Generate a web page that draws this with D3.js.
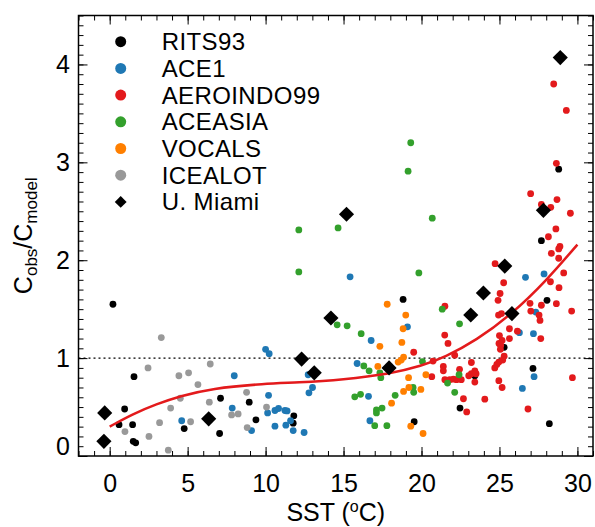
<!DOCTYPE html>
<html>
<head>
<meta charset="utf-8">
<script src="https://cdn.jsdelivr.net/npm/d3@7"></script>
<style>
  body { margin: 0; background: #fff; }
  text { font-family: "Liberation Sans", Arial, sans-serif; fill: #000; }
</style>
</head>
<body>
<div id="chart"></div>
<script>
// data: [SST, Cobs/Cmodel]
var rits93 = [[0.21,1.55],[1.56,0.81],[0.96,0.48],[0.60,0.32],[1.47,0.32],[1.51,0.15],[1.67,0.135],
  [4.78,0.28],[7.11,0.59],[7.05,0.23],[8.95,0.55],[9.38,0.37],[11.81,0.41],[11.77,0.335],[18.82,1.60],
  [19.53,0.35],[25.3,1.11],[27.15,0.895],[28.2,0.33],[23.42,0.82],[22.47,0.49],[28.05,1.59],[27.69,2.20],[28.8,2.93]];
var ace1 = [[4.62,0.36],[7.86,0.49],[7.99,0.82],[9.1,0.26],[10.0,1.09],[10.23,1.045],[10.19,0.62],[10.13,0.44],
  [10.6,0.465],[10.83,0.485],[11.24,0.465],[11.38,0.46],[10.6,0.305],[11.3,0.315],[11.6,0.36],[11.77,0.26],
  [12.47,0.24],[12.78,0.645],[13.01,0.70],[12.73,0.83],[15.42,1.83],[16.77,1.18],[15.87,0.945],[16.6,0.61],
  [16.69,0.36],[19.1,1.32],[26.28,1.26],[26.47,0.69],[27.22,0.81],[27.33,1.47],[27.18,1.25],[26.67,1.825],[27.86,1.86]];
var aeroindo99 = [[19.5,1.06],[21.5,1.53],[21.49,1.235],[21.7,1.15],[20.74,0.97],[20.66,0.81],[21.4,0.915],[21.4,0.87],
  [21.5,0.78],[22.13,1.03],[23.2,0.955],[22.44,0.885],[23.42,0.87],[23.2,0.84],[23.03,0.82],[23.5,0.84],[23.42,0.755],
  [21.81,0.78],[22.05,0.785],[22.25,0.78],[22.55,0.78],[22.69,0.585],[22.9,0.45],[24.06,0.58],[24.72,1.965],[25.27,1.77],
  [25.04,1.66],[24.91,1.59],[24.94,1.44],[25.13,1.455],[25.64,1.30],[25.64,1.20],[26.15,1.275],[25.0,1.23],[24.97,1.15],
  [25.08,1.13],[25.17,1.18],[25.06,1.09],[25.3,1.02],[25.21,0.98],[24.96,0.96],[24.83,0.935],[24.7,0.90],[24.96,0.77],
  [25.17,0.70],[26.83,0.48],[29.68,0.80],[26.96,1.56],[27.01,1.48],[27.54,1.44],[27.6,1.385],[27.69,1.54],[27.65,1.20],
  [28.65,1.556],[28.27,1.78],[28.82,1.72],[29.63,1.48],[28.65,2.99],[27.0,2.68],[27.69,2.57],[28.29,2.54],[28.69,2.62],
  [29.55,2.48],[28.62,2.32],[28.14,2.24],[28.88,2.14],[28.8,2.115],[28.33,2.07],[28.8,2.02],[29.12,1.87],[28.48,3.80],[29.29,3.53]];
var aceasia = [[12.13,2.31],[12.13,1.88],[14.65,2.33],[19.14,2.91],[19.31,3.20],[20.69,2.43],[19.83,1.87],[14.59,1.34],
  [15.23,1.33],[16.13,1.25],[21.33,1.50],[22.44,1.35],[16.3,0.92],[16.64,0.87],[17.33,0.85],[17.39,0.80],[20.06,0.965],
  [21.67,0.745],[22.41,0.83],[22.13,0.65],[15.72,0.605],[16.09,0.63],[18.31,0.62],[19.46,0.70],[19.5,0.65],[17.11,0.47],
  [17.47,0.49],[17.11,0.44],[17.0,0.31],[17.78,0.31]];
var vocals = [[17.8,1.55],[18.99,1.44],[18.82,1.30],[17.33,1.12],[18.74,1.16],[18.85,1.01],[18.7,0.98],[18.5,0.96],
  [17.2,0.915],[19.17,0.80],[20.28,0.83],[18.85,0.66],[19.19,0.70],[19.96,0.68],[18.08,0.54],[19.31,0.305],[20.1,0.23]];
var icealot = [[3.31,1.21],[2.46,0.90],[4.44,0.82],[5.06,0.85],[6.45,0.94],[5.66,0.73],[4.53,0.59],[3.91,0.49],[6.39,0.55],
  [3.2,0.34],[5.19,0.35],[0.98,0.25],[2.52,0.20],[3.76,0.06],[8.78,0.65],[7.82,0.42],[8.24,0.43],[8.82,0.29],[10.06,0.5]];
var miami = [[-0.32,0.44],[-0.37,0.15],[6.35,0.38],[12.31,0.99],[13.12,0.85],[14.19,1.41],[15.19,2.47],[17.92,0.90],
  [23.16,1.44],[23.97,1.665],[25.34,1.94],[25.8,1.455],[27.82,2.51],[28.9,4.07]];
// fitted curve
var fitCurve = [[0,0.30],[1.5,0.43],[3,0.53],[4.5,0.61],[6.5,0.69],[10,0.74],[12,0.75],[15,0.78],[18,0.84],
  [20,0.92],[21.5,1.01],[23.5,1.18],[25.8,1.45],[28,1.79],[30,2.16]];

var seriesNames = ["RITS93","ACE1","AEROINDO99","ACEASIA","VOCALS","ICEALOT"];
var seriesData = [rits93, ace1, aeroindo99, aceasia, vocals, icealot];
var seriesColors = ["#000000","#1f78b4","#e31a1c","#33a02c","#ff7f00","#999999"];

var xTicks = [0,5,10,15,20,25,30];
var yTicks = [0,1,2,3,4];

function main(){
    var W = 595, H = 527;
    var margin = {left: 78.5, right: 2, top: 15.5, bottom: 71};
    var width = W - margin.left - margin.right,
        height = H - margin.top - margin.bottom;

    var svg = d3.select("#chart").append("svg")
        .attr("width", W).attr("height", H)
      .append("g")
        .attr("transform", "translate(" + margin.left + "," + margin.top + ")");

    var x = d3.scaleLinear().domain([-2, 31]).range([0, width]);
    var y = d3.scaleLinear().domain([0, 4.5]).range([height, 0]);

    var xMinor = d3.range(-2, 32, 1), yMinor = d3.range(0, 4.51, 0.1);

    // ticks, all pointing inward
    function tickAxis(axis, pos){
        var g = svg.append("g").attr("transform", pos).call(axis);
        g.select(".domain").remove();
        g.selectAll("line").attr("stroke", "#000").attr("stroke-width", 1);
        return g;
    }
    tickAxis(d3.axisBottom(x).tickValues(xMinor).tickSize(-5).tickFormat(""), "translate(0," + height + ")");
    tickAxis(d3.axisTop(x).tickValues(xMinor).tickSize(-5).tickFormat(""), "translate(0,0)");
    tickAxis(d3.axisTop(x).tickValues(xTicks).tickSize(-9).tickFormat(""), "translate(0,0)");
    tickAxis(d3.axisLeft(y).tickValues(yMinor).tickSize(-5).tickFormat(""), "translate(0,0)");
    tickAxis(d3.axisRight(y).tickValues(yMinor).tickSize(-5).tickFormat(""), "translate(" + width + ",0)");
    tickAxis(d3.axisRight(y).tickValues(yTicks).tickSize(-9).tickFormat(""), "translate(" + width + ",0)");

    var xa = tickAxis(d3.axisBottom(x).tickValues(xTicks).tickSize(-9).tickFormat(d3.format("d")), "translate(0," + height + ")");
    xa.selectAll("text").attr("y", 36).attr("dy", null).style("font-size", "25px");

    var ya = tickAxis(d3.axisLeft(y).tickValues(yTicks).tickSize(-9).tickPadding(8.5).tickFormat(d3.format("d")), "translate(0,0)");
    ya.selectAll("text").style("font-size", "25px")
        .attr("dy", function(d){ return d == 0 ? "-0.05em" : "0.34em"; });

    // y = 1 reference
    svg.append("line")
        .attr("x1", 0).attr("x2", width)
        .attr("y1", y(1)).attr("y2", y(1))
        .attr("stroke", "#000").attr("stroke-width", 1.2)
        .attr("stroke-dasharray", "2,3");

    // campaigns
    for (var i = 0; i < seriesData.length; i++){
        svg.append("g").selectAll("circle")
            .data(seriesData[i])
            .enter().append("circle")
            .attr("cx", function(d){ return x(d[0]); })
            .attr("cy", function(d){ return y(d[1]); })
            .attr("r", 3.4)
            .attr("fill", seriesColors[i]);
    }

    svg.append("path")
        .datum(fitCurve)
        .attr("d", d3.line().x(function(d){ return x(d[0]); }).y(function(d){ return y(d[1]); }).curve(d3.curveBasis))
        .attr("fill", "none")
        .attr("stroke", "#e31a1c")
        .attr("stroke-width", 2.5);

    var diamond = d3.symbol().type(d3.symbolSquare).size(115);
    svg.append("g").selectAll("path")
        .data(miami)
        .enter().append("path")
        .attr("d", diamond)
        .attr("transform", function(d){ return "translate(" + x(d[0]) + "," + y(d[1]) + ") rotate(45)"; })
        .attr("fill", "#000");

    // frame
    svg.append("rect")
        .attr("width", width).attr("height", height)
        .attr("fill", "none").attr("stroke", "#000").attr("stroke-width", 1.5);

    // legend
    var lx = 120.7 - margin.left, ly0 = 41.7 - margin.top, lstep = 26.7;
    var leg = svg.append("g");
    for (var j = 0; j < seriesNames.length; j++){
        leg.append("circle").attr("cx", lx).attr("cy", ly0 + j * lstep).attr("r", 5.5).attr("fill", seriesColors[j]);
        leg.append("text").attr("x", lx + 41).attr("y", ly0 + j * lstep + 8.4)
            .style("font-size", "24px").style("letter-spacing", "0.4px").text(seriesNames[j]);
    }
    var my = ly0 + 6 * lstep;
    leg.append("path").attr("d", d3.symbol().type(d3.symbolSquare).size(70))
        .attr("transform", "translate(" + lx + "," + my + ") rotate(45)").attr("fill", "#000");
    leg.append("text").attr("x", lx + 41).attr("y", my + 8.4)
        .style("font-size", "24px").style("letter-spacing", "0.4px").text("U. Miami");

    // axis titles
    var xt = svg.append("text")
        .attr("x", width / 2).attr("y", 520.5 - margin.top)
        .attr("text-anchor", "middle").style("font-size", "25px");
    xt.append("tspan").text("SST (");
    xt.append("tspan").attr("dy", -9).style("font-size", "16px").text("o");
    xt.append("tspan").attr("dy", 9).text("C)");

    var yt = svg.append("text")
        .attr("transform", "translate(" + (31.5 - margin.left) + "," + (height / 2) + ") rotate(-90)")
        .attr("text-anchor", "middle").style("font-size", "25px");
    yt.append("tspan").text("C");
    yt.append("tspan").attr("dy", 5).style("font-size", "17px").text("obs");
    yt.append("tspan").attr("dy", -5).text("/C");
    yt.append("tspan").attr("dy", 5).style("font-size", "17px").text("model");
}

main();
</script>
</body>
</html>
